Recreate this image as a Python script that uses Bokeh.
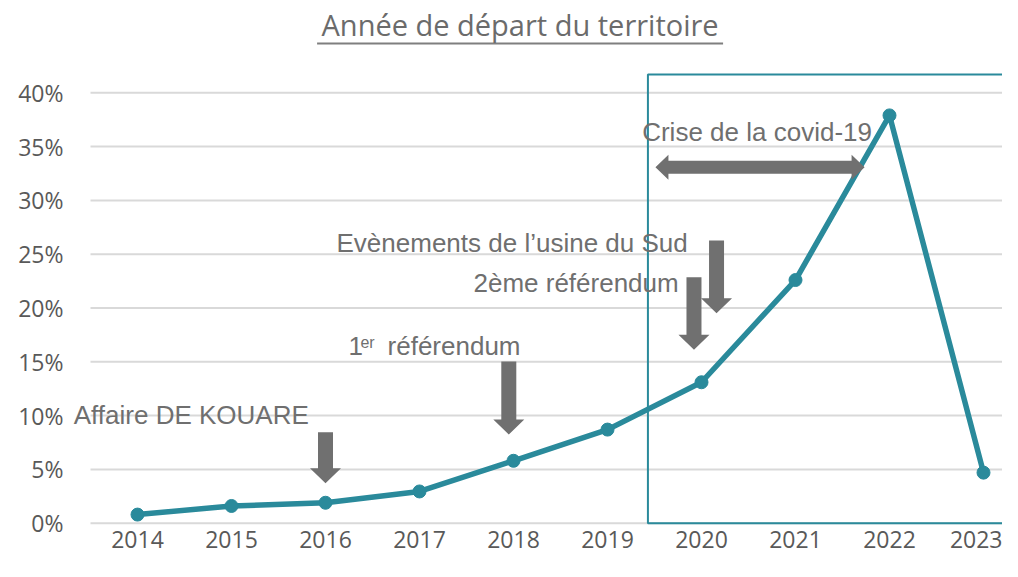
from bokeh.plotting import figure
from bokeh.models import Range1d, FixedTicker, PrintfTickFormatter, Label
from bokeh.embed import file_html
from bokeh.resources import INLINE

# ---------------- data ----------------
years = [2014, 2015, 2016, 2017, 2018, 2019, 2020, 2021, 2022, 2023]
share_pct = [0.8, 1.6, 1.9, 2.95, 5.8, 8.7, 13.1, 22.6, 37.9, 4.7]
y_ticks = [0, 5, 10, 15, 20, 25, 30, 35, 40]
y_tick_labels = ["0%", "5%", "10%", "15%", "20%", "25%", "30%", "35%", "40%"]
title_text = "Année de départ du territoire"

# highlighted period (covid box)
box_left_year = 2019.43
box_top_pct = 41.7

# event labels (x in years, y = baseline in %)
event_texts = ["Affaire DE KOUARE", "Evènements de l’usine du Sud",
               "2ème référendum", "Crise de la covid-19"]
event_x = [2013.322, 2016.117, 2017.574, 2019.369]
event_y = [9.15, 25.09, 21.38, 35.41]

# down arrows: x, top, tip
arrow_x = [2016.0, 2017.95, 2019.92, 2020.16]
arrow_top = [8.46, 15.03, 22.86, 26.27]
arrow_tip = [3.72, 8.24, 16.12, 19.52]

# covid double arrow
covid_x0, covid_x1, covid_y = 2019.51, 2021.735, 33.09

# ---------------- layout ----------------
W, H = 1002, 561
BL, BB = 68, 36
FW, FH = W - BL, H - BB
PX_YEAR = 94.0
PX_PCT = 10.76
x0 = 2014 - (137 - BL) / PX_YEAR
x1 = x0 + FW / PX_YEAR
y1 = 522.7 / PX_PCT
y0 = y1 - FH / PX_PCT
dx = 1.0 / PX_YEAR
dy = 1.0 / PX_PCT
grid_x_start = 2014 - 47 * dx
BASE_FIX = 0.38  # label baseline correction, in em

TEAL = "#2a8a9b"
GREY = "#6f6f6f"

p = figure(width=W, height=H, output_backend="svg", toolbar_location=None,
           x_range=Range1d(x0, x1), y_range=Range1d(y0, y1),
           min_border_left=BL, min_border_right=0, min_border_top=0,
           min_border_bottom=BB)
p.outline_line_color = None
p.background_fill_color = "white"
p.border_fill_color = "white"

p.xgrid.grid_line_color = None
p.ygrid.grid_line_color = None
# horizontal gridlines (start a little right of the frame edge, as in the original)
p.segment(x0=[grid_x_start] * len(y_ticks), y0=y_ticks,
          x1=[x1 + 1] * len(y_ticks), y1=y_ticks,
          line_color="#d9d9d9", line_width=2)

p.yaxis.ticker = FixedTicker(ticks=y_ticks)
p.yaxis.major_label_overrides = {t: l for t, l in zip(y_ticks, y_tick_labels)}
p.xaxis.ticker = FixedTicker(ticks=years)
p.xaxis.formatter = PrintfTickFormatter(format="%d")
for ax in (p.xaxis[0], p.yaxis[0]):
    ax.axis_line_color = None
    ax.major_tick_line_color = None
    ax.minor_tick_line_color = None
    ax.major_tick_out = 0
    ax.major_tick_in = 0
    ax.major_label_text_color = "#595959"
    ax.major_label_text_font = "Open Sans"
p.yaxis.major_label_text_font_size = "23px"
p.yaxis.major_label_standoff = 5
p.xaxis.major_label_text_font_size = "23px"
p.xaxis.major_label_standoff = 5

# covid box (open on the right, beyond frame)
p.line([x1 + 1, box_left_year, box_left_year, x1 + 1],
       [box_top_pct, box_top_pct, 0, 0], line_color=TEAL, line_width=2)

# data line
p.line(years, share_pct, line_color=TEAL, line_width=5.5)
p.scatter(years, share_pct, size=13, fill_color=TEAL, line_color=TEAL)

# down arrows
SW, HW, HL = 7.5, 15.5, 15
xs, ys = [], []
for ax_, top, tip in zip(arrow_x, arrow_top, arrow_tip):
    hy = tip + HL * dy
    xs.append([ax_ - SW * dx, ax_ + SW * dx, ax_ + SW * dx, ax_ + HW * dx, ax_,
               ax_ - HW * dx, ax_ - SW * dx])
    ys.append([top, top, hy, hy, tip, hy, hy])
# double arrow
ST, HH, HLh = 6.5, 12.5, 13
a = covid_x0 + HLh * dx
b = covid_x1 - HLh * dx
xs.append([covid_x0, a, a, b, b, covid_x1, b, b, a, a])
ys.append([covid_y, covid_y + HH * dy, covid_y + ST * dy, covid_y + ST * dy,
           covid_y + HH * dy, covid_y, covid_y - HH * dy, covid_y - ST * dy,
           covid_y - ST * dy, covid_y - HH * dy])
p.patches(xs, ys, fill_color="#707070", line_color=None)


def add_text(x, y, text, size, font="Liberation Sans", color=GREY, align="left"):
    p.add_layout(Label(x=x, y=y + BASE_FIX * size * dy, text=text, text_font=font,
                       text_font_size=f"{size}px", text_color=color,
                       text_align=align, text_baseline="alphabetic"))


# event labels
for t, x, y in zip(event_texts, event_x, event_y):
    add_text(x, y, t, 26)
# 1er référendum (with superscript)
add_text(2016.245, 15.58, "1", 26)
add_text(2016.372, 16.26, "er", 16)
add_text(2016.66, 15.58, "référendum", 26)

# title + underline
tx, ty = 2018.07, (522.7 - 35) / PX_PCT
add_text(tx, ty, title_text, 29, font="Open Sans", color="#6b6b6b", align="center")
p.line([tx - 203 * dx, tx + 203 * dx], [ty - 8 * dy, ty - 8 * dy],
       line_color="#7f7f7f", line_width=2)

open("out.html", "w").write(file_html(p, INLINE))
